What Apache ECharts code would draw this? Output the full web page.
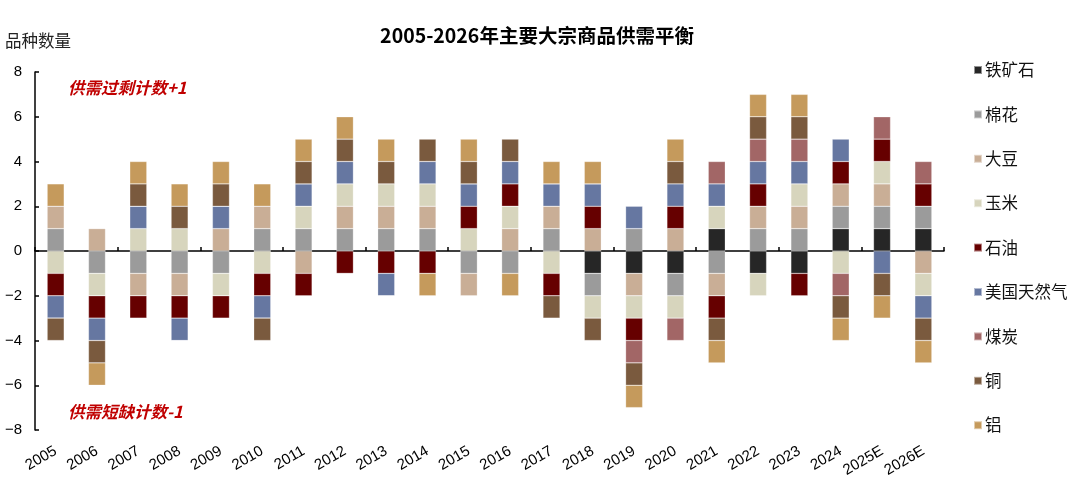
<!DOCTYPE html>
<html>
<head>
<meta charset="utf-8">
<script src="https://cdn.jsdelivr.net/npm/echarts@6/dist/echarts.min.js"></script>
<style>html,body{margin:0;padding:0;background:#fff}#c{width:1080px;height:495px}</style>
</head>
<body>
<div id="c"></div>
<script>
const years = ['2005','2006','2007','2008','2009','2010','2011','2012','2013','2014','2015','2016','2017','2018','2019','2020','2021','2022','2023','2024','2025E','2026E'];
const names = ['铁矿石','棉花','大豆','玉米','石油','美国天然气','煤炭','铜','铝'];
const ironOre  = [0,0,0,0,0,0,0,0,0,0,0,0,0,-1,-1,-1,1,-1,-1,1,1,1];
const cotton   = [1,-1,-1,-1,-1,1,1,1,1,1,-1,-1,1,-1,1,-1,-1,1,1,1,1,1];
const soybean  = [1,1,-1,-1,1,1,-1,1,1,1,-1,1,1,1,-1,1,-1,1,1,1,1,-1];
const corn     = [-1,-1,1,1,-1,-1,1,1,1,1,1,1,-1,-1,-1,-1,1,-1,1,-1,1,-1];
const oil      = [-1,-1,-1,-1,-1,-1,-1,-1,-1,-1,1,1,-1,1,-1,1,-1,1,-1,1,1,1];
const natGas   = [-1,-1,1,-1,1,-1,1,1,-1,1,1,1,1,1,1,1,1,1,1,1,-1,-1];
const coal     = [0,0,0,0,0,0,0,0,0,0,0,0,0,0,-1,-1,1,1,1,-1,1,1];
const copper   = [-1,-1,1,1,1,-1,1,1,1,1,1,1,-1,-1,-1,1,-1,1,1,-1,-1,-1];
const aluminum = [1,-1,1,1,1,1,1,1,1,-1,1,-1,1,1,-1,1,-1,1,1,-1,-1,-1];
const yTicks = [-8,-6,-4,-2,0,2,4,6,8];

const seriesData = [ironOre, cotton, soybean, corn, oil, natGas, coal, copper, aluminum];
const colors = ['#262626','#9b9b9b','#c9ae96','#d7d5bd','#660000','#6677a1','#a26666','#7a5a3e','#c59a5c'];
const FONT = "'Liberation Sans','Noto Sans CJK SC',sans-serif";
const CJK = "'Noto Sans CJK SC',sans-serif";

const chart = echarts.init(document.getElementById('c'));
chart.setOption({
  animation: false,
  textStyle: {fontFamily: FONT},
  title: {
    text: '2005-2026年主要大宗商品供需平衡',
    left: 532, top: 21, textAlign: 'center',
    textStyle: {fontSize: 19.5, fontWeight: 'bold', color: '#000', fontFamily: CJK}
  },
  legend: {
    orient: 'vertical', left: 968, top: 56,
    itemWidth: 8, itemHeight: 8, itemGap: 26.4,
    icon: 'rect',
    textStyle: {fontSize: 16.5, color: '#111', lineHeight: 18, fontFamily: CJK, padding: [0,0,0,-2]},
    data: names
  },
  grid: {left: 35, right: 136, top: 72, bottom: 65},
  xAxis: [{
    type: 'category', data: years,
    axisLine: {onZero: true, lineStyle: {color: '#000', width: 1.5}},
    axisTick: {show: true, inside: true, length: 4, lineStyle: {color: '#000', width: 1.5}},
    axisLabel: {show: false}
  }, {
    type: 'category', data: years, position: 'bottom',
    axisLine: {show: false, onZero: false}, axisTick: {show: false},
    axisLabel: {rotate: 30, margin: 20, fontSize: 15, color: '#000', interval: 0}
  }],
  yAxis: {
    type: 'value', min: -8, max: 8, interval: 2,
    splitLine: {show: false},
    axisLine: {show: true, lineStyle: {color: '#000', width: 1.5}},
    axisTick: {show: true, inside: true, length: 4, lineStyle: {color: '#000', width: 1.5}},
    axisLabel: {fontSize: 15, color: '#000', margin: 13,
      formatter: v => yTicks.includes(v) ? String(v).replace('-', '−') : ''}
  },
  graphic: [
    {type: 'text', left: 5, top: 32, style: {text: '品种数量', fill: '#222', font: "16.5px 'Noto Sans CJK SC',sans-serif"}},
    {type: 'text', left: 68, top: 79, style: {text: '供需过剩计数+1', fill: '#c00000', font: "italic bold 16.5px 'Noto Sans CJK SC',sans-serif"}},
    {type: 'text', left: 68, top: 403, style: {text: '供需短缺计数-1', fill: '#c00000', font: "italic bold 16.5px 'Noto Sans CJK SC',sans-serif"}}
  ],
  series: names.map((n, i) => ({
    name: n, type: 'bar', stack: 'total', xAxisIndex: 0,
    data: seriesData[i], barWidth: 17,
    itemStyle: {color: colors[i], borderColor: 'rgba(255,255,255,0.5)', borderWidth: 0.5}
  }))
});
</script>
</body>
</html>
